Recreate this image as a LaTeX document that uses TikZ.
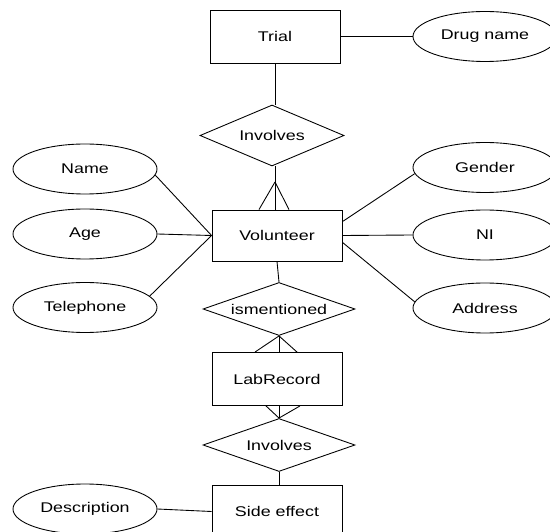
\documentclass[tikz,border=0pt]{standalone}
\usepackage{fontspec}
\setmainfont{Liberation Sans}[FakeStretch=1.27]
\usetikzlibrary{shapes.geometric}
\tikzset{
  entity/.style={draw,rectangle,minimum width=2.6cm,minimum height=1.06cm,inner sep=0pt},
  attribute/.style={draw,ellipse,minimum width=2.88cm,minimum height=1.0cm,inner sep=0pt},
  relation/.style={draw,diamond,minimum width=3.04cm,minimum height=1.06cm,inner sep=0pt,aspect=2.5},
}
\begin{document}
\begin{tikzpicture}[line width=0.5pt,font=\fontsize{8}{9.6}\selectfont]
\useasboundingbox (0,0) rectangle (11.0,10.62);
\clip (0,0) rectangle (11.0,10.62);
\node[entity] (Trial) at (5.500,9.890) {Trial};
\node[attribute] (Drug) at (9.700,9.890) {Drug name};
\node[relation,minimum width=2.88cm,minimum height=1.22cm] (Inv1) at (5.440,7.910) {Involves};
\node[attribute] (Name) at (1.700,7.240) {Name};
\node[attribute] (Age) at (1.700,5.940) {Age};
\node[attribute] (Tel) at (1.700,4.470) {Telephone};
\node[attribute] (Gender) at (9.700,7.270) {Gender};
\node[attribute] (NI) at (9.700,5.920) {NI};
\node[attribute] (Addr) at (9.700,4.460) {Address};
\node[entity,minimum height=1.02cm] (Vol) at (5.540,5.910) {Volunteer};
\node[relation] (Ism) at (5.580,4.440) {ismentioned};
\node[entity] (Lab) at (5.540,3.040) {LabRecord};
\node[relation] (Inv2) at (5.580,1.720) {Involves};
\node[entity] (Side) at (5.540,0.390) {Side effect};
\node[attribute] (Desc) at (1.700,0.440) {Description};
\draw (Trial.east) -- (Drug.west);
\draw (Trial.south) -- (Trial.south |- Inv1.north);
\draw (Inv1.south -| Trial.south) -- (Trial.south |- Vol.north);
\coordinate (CF1) at (5.500,6.980);
\draw (CF1) -- ([xshift=-0.36cm]Vol.north);
\draw (CF1) -- ([xshift=0.24cm]Vol.north);
\draw (Name.-5) -- (Vol.west);
\draw (Age.east) -- (Vol.west);
\draw (Tel.10) -- (Vol.west);
\draw (Vol.12) -- (Gender.185);
\draw (Vol.east) -- (NI.west);
\draw (Vol.-6) -- (Addr.175);
\draw (Vol.south) -- (Ism.north);
\draw (Ism.south) -- (Ism.south |- Lab.north);
\draw (Ism.south) -- ([xshift=-0.44cm]Lab.north);
\draw (Ism.south) -- ([xshift=0.40cm]Lab.north);
\draw (Inv2.north |- Lab.south) -- (Inv2.north);
\draw ([xshift=-0.22cm]Lab.south) -- (Inv2.north);
\draw ([xshift=0.46cm]Lab.south) -- (Inv2.north);
\draw (Inv2.south) -- (Inv2.south |- Side.north);
\draw (Desc.east) -- (Side.west);
\end{tikzpicture}
\end{document}
